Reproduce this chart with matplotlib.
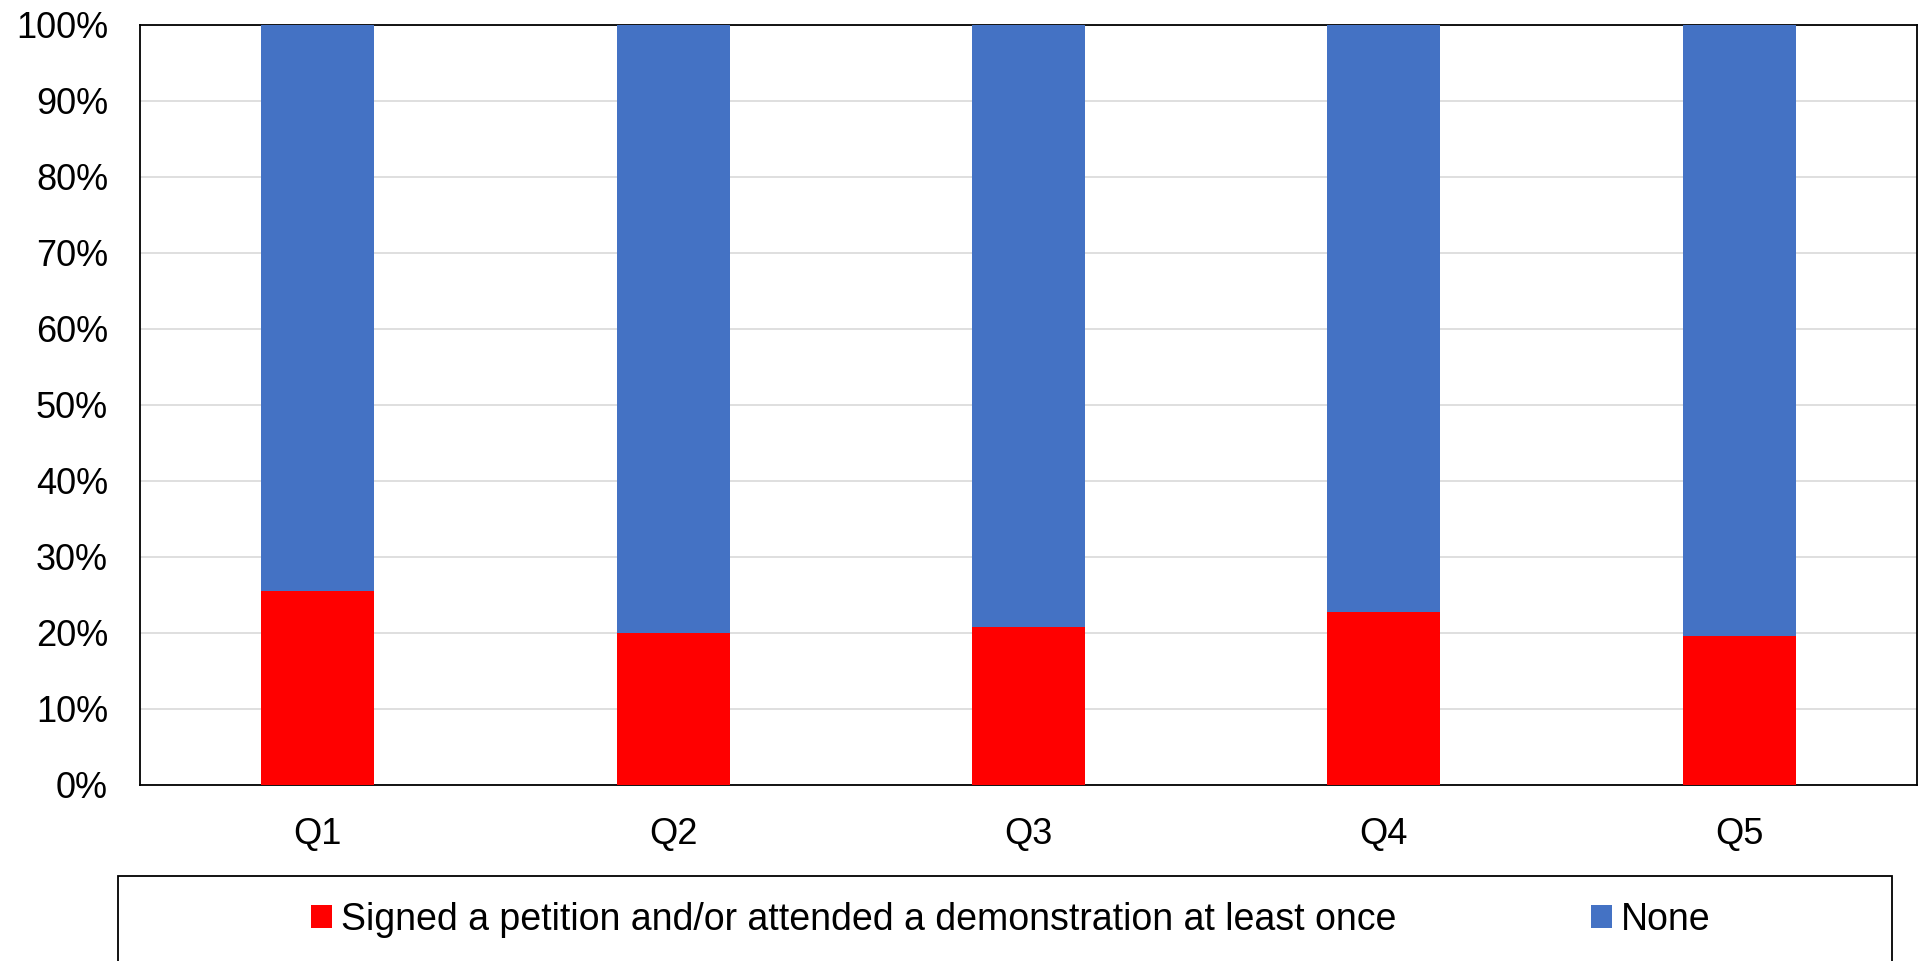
import matplotlib
matplotlib.use("Agg")
import matplotlib.pyplot as plt
from matplotlib.ticker import PercentFormatter, MultipleLocator
from matplotlib.patches import Rectangle
import numpy as np

categories = ["Q1", "Q2", "Q3", "Q4", "Q5"]
signed = [25.5, 20.0, 20.8, 22.8, 19.6]
none = [100 - v for v in signed]
series_names = ["Signed a petition and/or attended a demonstration at least once", "None"]

plt.rcParams['font.family'] = ['Liberation Sans', 'DejaVu Sans']
FS = 26
LFS = 27

fig = plt.figure(figsize=(19.19, 9.61), dpi=100)
W, H = 1919, 961
ax = fig.add_axes([140 / W, (H - 785) / H, 1777 / W, 760 / H])

x = np.arange(len(categories))
bw = 0.318
b1 = ax.bar(x, signed, width=bw, color="#FF0000", label=series_names[0], zorder=3)
b2 = ax.bar(x, none, bottom=signed, width=bw, color="#4472C4", label=series_names[1], zorder=3)

ax.set_xlim(-0.5, len(categories) - 0.5)
ax.set_ylim(0, 100)
ax.yaxis.set_major_locator(MultipleLocator(10))
ax.yaxis.set_major_formatter(PercentFormatter(decimals=0))
ax.set_xticks(x)
ax.set_xticklabels(categories)
ax.tick_params(axis='y', length=0, pad=23, labelsize=FS)
ax.tick_params(axis='x', length=0, pad=23, labelsize=FS)
ax.grid(axis='y', color="#D9D9D9", linewidth=1.2, zorder=0)
for s in ax.spines.values():
    s.set_color("black")
    s.set_linewidth(1.3)

# legend frame
fig.patches.append(Rectangle((118 / W, -0.01), (1892 - 118) / W, (H - 876) / H + 0.01,
                             transform=fig.transFigure, fill=False, edgecolor="black",
                             linewidth=1.3))
fig.legend(handles=[b1, b2], labels=series_names, loc='center',
           bbox_to_anchor=(1011 / W, (H - 920) / H), ncol=2, frameon=False,
           fontsize=LFS, handlelength=0.55, handleheight=0.58, handletextpad=0.25,
           columnspacing=5.2)

fig.savefig("out.png", dpi=100)
